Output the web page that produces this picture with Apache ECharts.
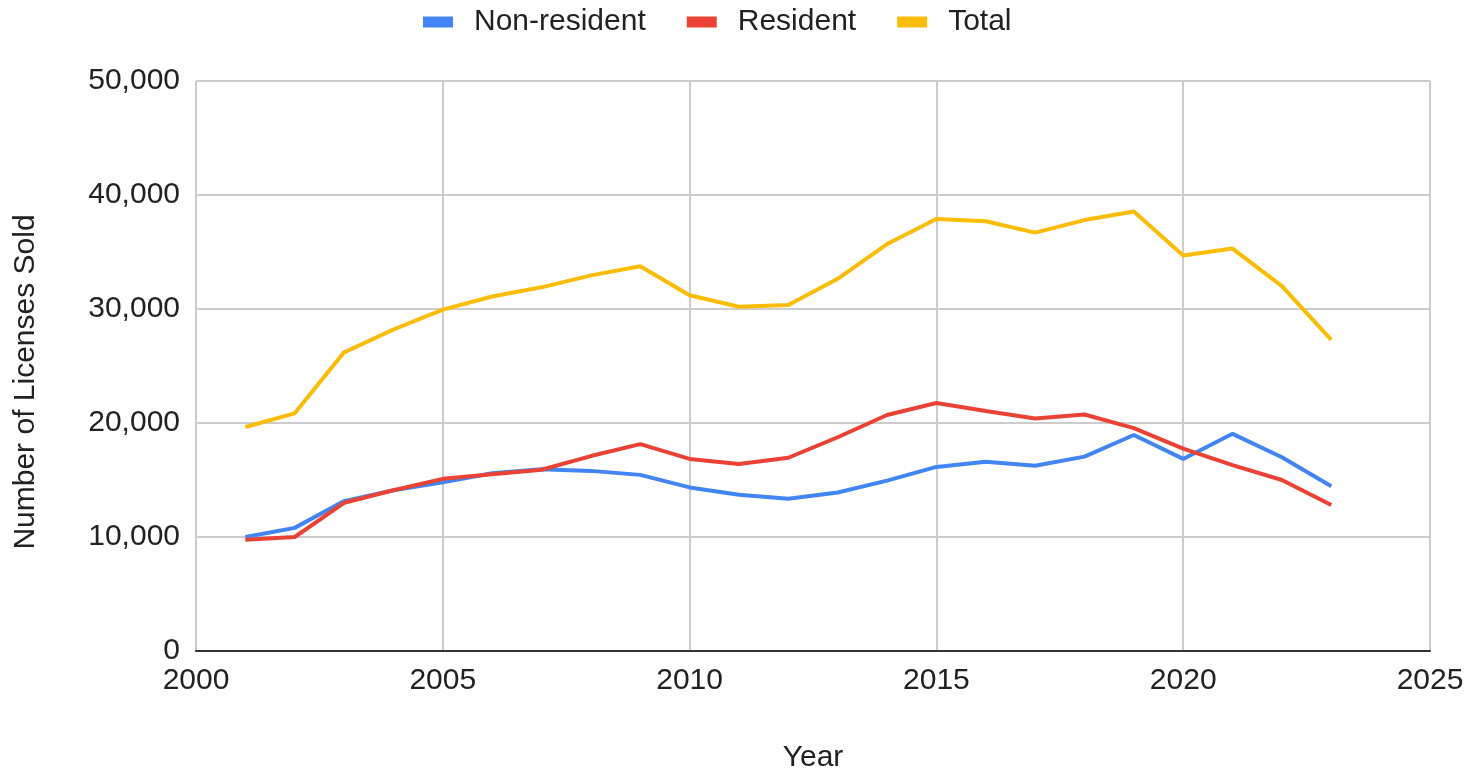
<!DOCTYPE html>
<html>
<head>
<meta charset="utf-8">
<script src="https://cdn.jsdelivr.net/npm/echarts@6/dist/echarts.min.js"></script>
<style>
    html, body { margin: 0; padding: 0; background: #ffffff; }
    #main { width: 1474px; height: 772px; }
</style>
</head>
<body>
<div id="main"></div>
<script>
    // 年份
    const years = [2001, 2002, 2003, 2004, 2005, 2006, 2007, 2008, 2009, 2010, 2011, 2012,
        2013, 2014, 2015, 2016, 2017, 2018, 2019, 2020, 2021, 2022, 2023];
    // 非居民
    const nonResident = [10000, 10800, 13150, 14100, 14800, 15600, 15950, 15800, 15450, 14350, 13700, 13350,
        13900, 14950, 16150, 16600, 16250, 17050, 18950, 16850, 19050, 17000, 14450];
    // 居民
    const resident = [9750, 10000, 13000, 14100, 15100, 15500, 15900, 17100, 18150, 16850, 16400, 16950,
        18750, 20700, 21750, 21050, 20400, 20750, 19550, 17750, 16300, 15000, 12800];
    // 合计
    const total = [19650, 20850, 26200, 28200, 29950, 31100, 31900, 32950, 33750, 31200, 30200, 30350,
        32650, 35700, 37900, 37700, 36700, 37800, 38550, 34700, 35300, 32000, 27300];

    const seriesNames = ['Non-resident', 'Resident', 'Total'];
    const colors = ['#4285F4', '#EA4335', '#FBBC04'];
    const font = 'Liberation Sans, Arial, sans-serif';

    const pairs = arr => years.map((y, i) => [y, arr[i]]);

    const chart = echarts.init(document.getElementById('main'));
    chart.setOption({
        animation: false,
        color: colors,
        legend: {
            top: 2,
            left: 418,
            itemWidth: 30,
            itemHeight: 11,
            itemGap: 41,
            icon: 'rect',
            data: seriesNames,
            textStyle: { fontFamily: font, fontSize: 30, color: '#222222', padding: [0, 0, 0, 16] }
        },
        grid: { left: 196, right: 44, top: 81, bottom: 121, outerBoundsMode: 'none' },
        xAxis: {
            type: 'value',
            min: 2000,
            max: 2025,
            interval: 5,
            name: 'Year',
            nameLocation: 'middle',
            nameGap: 92,
            nameTextStyle: { fontFamily: font, fontSize: 30, color: '#222222' },
            axisLine: { show: true, lineStyle: { color: '#333333', width: 2 } },
            axisTick: { show: false },
            axisLabel: { fontFamily: font, fontSize: 30, color: '#222222', margin: 15, formatter: v => String(v) },
            splitLine: { show: true, lineStyle: { color: '#cccccc', width: 2 } }
        },
        yAxis: {
            type: 'value',
            min: 0,
            max: 50000,
            interval: 10000,
            name: 'Number of Licenses Sold',
            nameLocation: 'middle',
            nameGap: 155,
            nameTextStyle: { fontFamily: font, fontSize: 30, color: '#222222', padding: [0, 32, 0, 0] },
            axisLine: { show: false },
            axisTick: { show: false },
            axisLabel: {
                fontFamily: font, fontSize: 30, color: '#222222', margin: 16,
                formatter: v => v.toLocaleString('en-US')
            },
            splitLine: { show: true, lineStyle: { color: '#cccccc', width: 2 } }
        },
        series: [
            { name: seriesNames[0], type: 'line', data: pairs(nonResident), showSymbol: false, lineStyle: { width: 4 } },
            { name: seriesNames[1], type: 'line', data: pairs(resident), showSymbol: false, lineStyle: { width: 4 } },
            { name: seriesNames[2], type: 'line', data: pairs(total), showSymbol: false, lineStyle: { width: 4 } }
        ]
    });
</script>
</body>
</html>
